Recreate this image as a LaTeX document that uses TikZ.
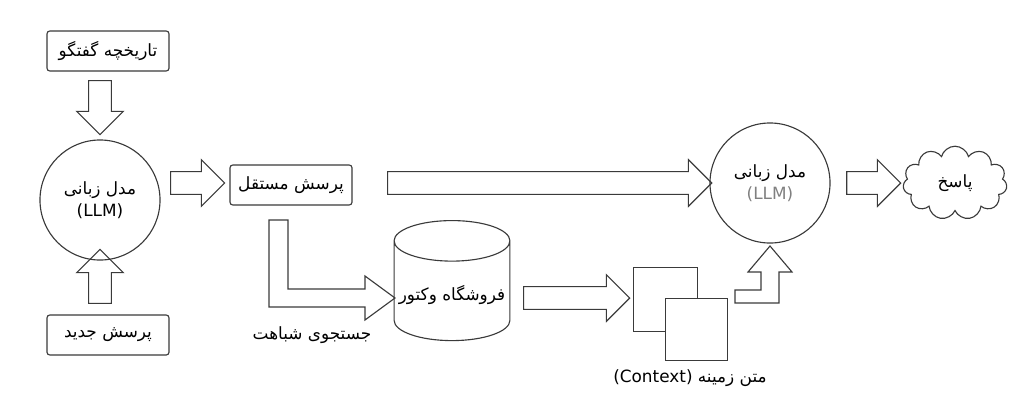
\documentclass[tikz,border=0pt]{standalone}
\usepackage{fontspec}
\setmainfont{DejaVu Sans}
\newfontfamily\farsi[Script=Arabic]{DejaVu Sans}
\usetikzlibrary{shapes.geometric, shapes.arrows, shapes.symbols, positioning}
\TeXXeTstate=1
\newcommand{\fa}[1]{{\farsi\beginR #1\endR}}
\definecolor{linegray}{HTML}{3A3A3A}

\begin{document}
\begin{tikzpicture}[x=0.025cm, y=-0.025cm, font=\large]
% Define styles
\tikzset{
  box/.style={rectangle, rounded corners=2pt, draw=linegray, thick, minimum width=3.05cm, minimum height=1cm, text centered, fill=white},
  llm/.style={circle, draw=linegray, thick, minimum size=3cm, align=center},
  blk/.style={single arrow, draw=linegray, thick, minimum width=1.15cm, single arrow head extend=0.3cm, single arrow tip angle=90, inner xsep=0pt, inner ysep=0.27cm, text height=0pt, text depth=0pt},
  blkline/.style={draw=linegray, thick, line join=miter}
}
\useasboundingbox (0,0) rectangle (1024,409);

% Nodes
\node (hist) [box] at (108,51) {\fa{تاریخچه گفتگو}};
\node (llmA) [llm] at (100,200) {\fa{مدل زبانی}\\[2pt](LLM)};
\node (newq) [box] at (108,335) {\fa{پرسش جدید}};
\node (indq) [box] at (291,185) {\fa{پرسش مستقل}};
\node (llmB) [llm] at (770,183) {\fa{مدل زبانی}\\[2pt]\textcolor{gray}{(LLM)}};
\node (resp) [cloud, draw=linegray, thick, cloud puffs=11, minimum width=2.6cm, minimum height=1.8cm] at (955,183) {\fa{پاسخ}};
\node (store) [cylinder, shape border rotate=90, draw=linegray, thick, aspect=0.35, minimum width=2.75cm, minimum height=3cm, align=center] at (452,295) {\fa{فروشگاه وکتور}};
\node (ctxA) [rectangle, draw=linegray, minimum size=1.6cm, fill=white] at (665,299) {};
\node (ctxB) [rectangle, draw=linegray, minimum size=1.55cm, fill=white] at (696,329) {};
\node (ctxlbl) at (690,378) {(Context) \fa{متن زمینه}};
\node (simlbl) at (312,335) {\fa{جستجوی شباهت}};

% Straight block arrows
\node [blk, rotate=-90, minimum height=1.35cm] at (100,102) {};
\node [blk, rotate=90, minimum height=1.35cm] at (100,282) {};
\node [blk, minimum height=1.35cm] at (192,183) {};
\node [blk, minimum height=8.1cm] at (544,183) {};
\node [blk, minimum height=1.35cm] at (868,183) {};
\node [blk, minimum height=2.65cm] at (571,298) {};

% Elbow block arrows
\draw [blkline] (269,220) -- (269,307) -- (365,307) -- (365,320) -- (395,298) -- (365,276) -- (365,289) -- (288,289) -- (288,220) -- cycle;
\draw [blkline] (735,303) -- (735,290) -- (761,290) -- (761,272) -- (748,272) -- (770,246) -- (792,272) -- (779,272) -- (779,303) -- cycle;

\end{tikzpicture}
\end{document}
